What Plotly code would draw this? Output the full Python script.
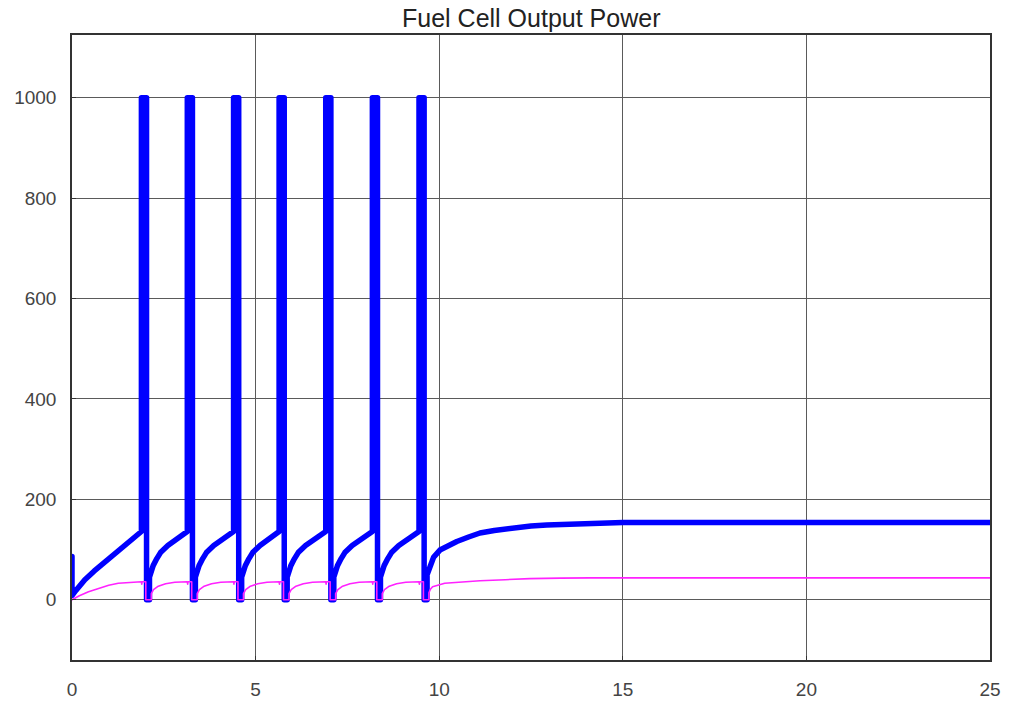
import plotly.graph_objects as go

# Blue trace (fuel cell output power) - time and value
blue_t = [0.00, 0.00, 0.10, 0.35, 0.60, 0.81, 1.05, 1.26, 1.50, 1.70, 1.82, 1.89,
          1.89, 2.03, 2.03, 2.11,
          2.11, 2.15, 2.21, 2.31, 2.41, 2.61, 2.86, 3.06, 3.14,
          3.14, 3.28, 3.28, 3.36,
          3.36, 3.40, 3.46, 3.56, 3.66, 3.86, 4.11, 4.32, 4.40,
          4.40, 4.54, 4.54, 4.62,
          4.62, 4.66, 4.72, 4.82, 4.92, 5.12, 5.37, 5.56, 5.64,
          5.64, 5.78, 5.78, 5.86,
          5.86, 5.90, 5.96, 6.06, 6.16, 6.36, 6.61, 6.83, 6.91,
          6.91, 7.05, 7.05, 7.13,
          7.13, 7.17, 7.23, 7.33, 7.43, 7.63, 7.88, 8.10, 8.18,
          8.18, 8.32, 8.32, 8.40,
          8.40, 8.44, 8.50, 8.60, 8.70, 8.90, 9.15, 9.37, 9.45,
          9.45, 9.59, 9.59, 9.67,
          9.67, 9.75, 9.85, 10.02, 10.25, 10.48, 10.80, 11.11, 11.50, 12.01,
          12.50, 12.93, 13.50, 14.11, 15.00, 17.00, 20.00, 25.00]
blue_v = [86, 8, 18, 40, 57, 70, 86, 100, 114, 125, 132, 136,
          1000, 1000, 0, 0,
          45, 58, 68, 82, 94, 108, 122, 131, 136,
          1000, 1000, 0, 0,
          45, 58, 68, 82, 94, 108, 122, 131, 136,
          1000, 1000, 0, 0,
          45, 58, 68, 82, 94, 108, 122, 131, 136,
          1000, 1000, 0, 0,
          45, 58, 68, 82, 94, 108, 122, 131, 136,
          1000, 1000, 0, 0,
          45, 58, 68, 82, 94, 108, 122, 131, 136,
          1000, 1000, 0, 0,
          45, 58, 68, 82, 94, 108, 122, 131, 136,
          1000, 1000, 0, 0,
          50, 66, 85, 99, 108, 116, 125, 133, 138, 144,
          147, 149, 151, 153, 154, 154, 154, 154]

# Magenta trace
pink_t = [0.00, 0.20, 0.45, 0.72, 1.00, 1.26, 1.60, 1.89, 1.90, 1.91, 2.01, 2.01, 2.16,
          2.16, 2.22, 2.35, 2.55, 2.80, 3.14, 3.15, 3.16, 3.26, 3.26, 3.41,
          3.41, 3.47, 3.60, 3.80, 4.05, 4.40, 4.41, 4.42, 4.52, 4.52, 4.67,
          4.67, 4.73, 4.86, 5.06, 5.31, 5.64, 5.65, 5.66, 5.76, 5.76, 5.91,
          5.91, 5.97, 6.10, 6.30, 6.55, 6.91, 6.92, 6.93, 7.03, 7.03, 7.18,
          7.18, 7.24, 7.37, 7.57, 7.82, 8.18, 8.19, 8.20, 8.30, 8.30, 8.45,
          8.45, 8.51, 8.64, 8.84, 9.09, 9.45, 9.46, 9.47, 9.57, 9.57, 9.72,
          9.72, 9.76, 9.82, 10.15, 10.50, 11.11, 11.80, 12.47, 13.30, 14.11, 25.00]
pink_v = [0, 8, 16, 23, 29, 33, 35, 36, 31, 36, 36, 0, 0,
          12, 20, 27, 32, 35, 36, 31, 36, 36, 0, 0,
          12, 20, 27, 32, 35, 36, 31, 36, 36, 0, 0,
          12, 20, 27, 32, 35, 36, 31, 36, 36, 0, 0,
          12, 20, 27, 32, 35, 36, 31, 36, 36, 0, 0,
          12, 20, 27, 32, 35, 36, 31, 36, 36, 0, 0,
          12, 20, 27, 32, 35, 36, 31, 36, 36, 0, 0,
          14, 21, 26, 33, 35, 38, 40, 42, 43, 43.5, 43.5]

x_ticks = [0, 5, 10, 15, 20, 25]
y_ticks = [0, 200, 400, 600, 800, 1000]

fig = go.Figure()
fig.add_trace(go.Scatter(x=blue_t, y=blue_v, mode="lines",
                         line=dict(color="#0000FF", width=5.5), showlegend=False))
fig.add_trace(go.Scatter(x=pink_t, y=pink_v, mode="lines",
                         line=dict(color="#FF22FF", width=1.6), showlegend=False))

axis_common = dict(showgrid=True, gridcolor="#5a5a5a", gridwidth=1,
                   showline=True, linecolor="#333333", linewidth=1.5, mirror=True,
                   ticks="inside", ticklen=4, tickcolor="#333333",
                   zeroline=False, automargin=False,
                   tickfont=dict(family="Liberation Sans, Arial", size=19, color="#444444"))

fig.update_xaxes(range=[0, 25], tickvals=x_ticks, ticklabelstandoff=11, **axis_common)
fig.update_yaxes(range=[-120, 1125], tickvals=y_ticks, ticklabelstandoff=10, **axis_common)

fig.update_layout(
    width=1010, height=702,
    margin=dict(l=72, r=20, t=35, b=42),
    paper_bgcolor="white", plot_bgcolor="white",
    title=dict(text="Fuel Cell Output Power", x=0.526, xanchor="center", y=0.974, yanchor="middle",
               font=dict(family="Liberation Sans, Arial", size=25, color="#222222")),
)

fig.write_html("out.html",
               config={"displayModeBar": False},
               post_script="document.body.style.margin='0';document.body.style.overflow='hidden';"
                           "document.querySelectorAll('.js-line').forEach(function(p){p.style.strokeLinejoin='round';p.style.strokeLinecap='round';});")
